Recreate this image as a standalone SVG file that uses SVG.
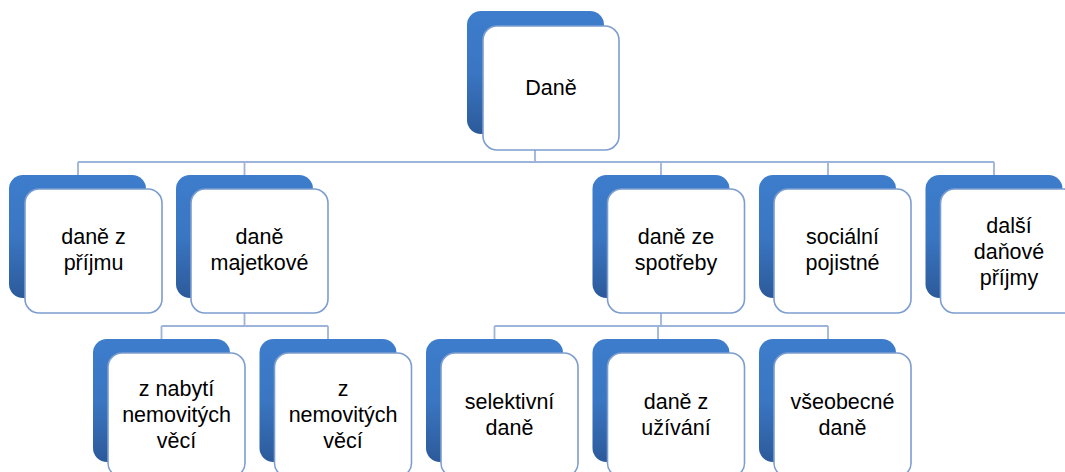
<svg xmlns="http://www.w3.org/2000/svg" width="1065" height="472" viewBox="0 0 1065 472">
<defs>
<linearGradient id="bg" x1="0" y1="0" x2="0" y2="1">
<stop offset="0" stop-color="#3d7dcc"/>
<stop offset="0.5" stop-color="#3a76c2"/>
<stop offset="1" stop-color="#2c5a9a"/>
</linearGradient>
<style>
.back{fill:url(#bg);}
.front{fill:#ffffff;stroke:#7c9dcf;stroke-width:1.6;}
.conn{fill:none;stroke:#9db3d9;stroke-width:1.8;}
text{font-family:"Liberation Sans",Arial,sans-serif;font-size:21.5px;fill:#000;text-anchor:middle;}
</style>
</defs>
<rect width="1065" height="472" fill="#ffffff"/>
<g id="connectors">
<path class="conn" d="M535,150 V162 M78,162 H994 M78,162 V175 M244.5,162 V175 M661,162 V175 M828,162 V175 M994,162 V175"/>
<path class="conn" d="M244.5,313 V326 M161.5,326 H328 M161.5,326 V339 M328,326 V339"/>
<path class="conn" d="M661,313 V326 M494.5,326 H828 M494.5,326 V339 M658,326 V339 M828,326 V339"/>
</g>
<g id="n-dane">
<rect class="back" x="467" y="11" width="137" height="123" rx="14"/>
<rect class="front" x="483" y="26" width="136" height="124" rx="14"/>
<text x="551" y="95">Daně</text>
</g>
<g id="n-prijmu">
<rect class="back" x="9" y="175" width="137" height="123" rx="14"/>
<rect class="front" x="25" y="189" width="137" height="124" rx="14"/>
<text x="93.5" y="244">daně z</text>
<text x="93.5" y="270">příjmu</text>
</g>
<g id="n-majetkove">
<rect class="back" x="176" y="175" width="137" height="123" rx="14"/>
<rect class="front" x="191" y="189" width="137" height="124" rx="14"/>
<text x="259.5" y="244">daně</text>
<text x="259.5" y="270">majetkové</text>
</g>
<g id="n-spotreby">
<rect class="back" x="592.5" y="175" width="137" height="123" rx="14"/>
<rect class="front" x="607.5" y="189" width="137" height="124" rx="14"/>
<text x="676" y="244">daně ze</text>
<text x="676" y="270">spotřeby</text>
</g>
<g id="n-socialni">
<rect class="back" x="759" y="175" width="137" height="123" rx="14"/>
<rect class="front" x="774" y="189" width="137" height="124" rx="14"/>
<text x="842.5" y="244">sociální</text>
<text x="842.5" y="270">pojistné</text>
</g>
<g id="n-dalsi">
<rect class="back" x="925.5" y="175" width="137" height="123" rx="14"/>
<rect class="front" x="940.5" y="189" width="137" height="124" rx="14"/>
<text x="1009" y="233">další</text>
<text x="1009" y="259">daňové</text>
<text x="1009" y="285">příjmy</text>
</g>
<g id="n-nabyti">
<rect class="back" x="93" y="339" width="137" height="123" rx="14"/>
<rect class="front" x="108" y="353" width="137" height="124" rx="14"/>
<text x="176.5" y="396">z nabytí</text>
<text x="176.5" y="422">nemovitých</text>
<text x="176.5" y="448">věcí</text>
</g>
<g id="n-nemovitych">
<rect class="back" x="259.5" y="339" width="137" height="123" rx="14"/>
<rect class="front" x="274.5" y="353" width="137" height="124" rx="14"/>
<text x="343" y="396">z</text>
<text x="343" y="422">nemovitých</text>
<text x="343" y="448">věcí</text>
</g>
<g id="n-selektivni">
<rect class="back" x="426" y="339" width="137" height="123" rx="14"/>
<rect class="front" x="441" y="353" width="137" height="124" rx="14"/>
<text x="509.5" y="409">selektivní</text>
<text x="509.5" y="435">daně</text>
</g>
<g id="n-uzivani">
<rect class="back" x="592.5" y="339" width="137" height="123" rx="14"/>
<rect class="front" x="607.5" y="353" width="137" height="124" rx="14"/>
<text x="676" y="409">daně z</text>
<text x="676" y="435">užívání</text>
</g>
<g id="n-vseobecne">
<rect class="back" x="759" y="339" width="137" height="123" rx="14"/>
<rect class="front" x="774" y="353" width="137" height="124" rx="14"/>
<text x="842.5" y="409">všeobecné</text>
<text x="842.5" y="435">daně</text>
</g>
</svg>
